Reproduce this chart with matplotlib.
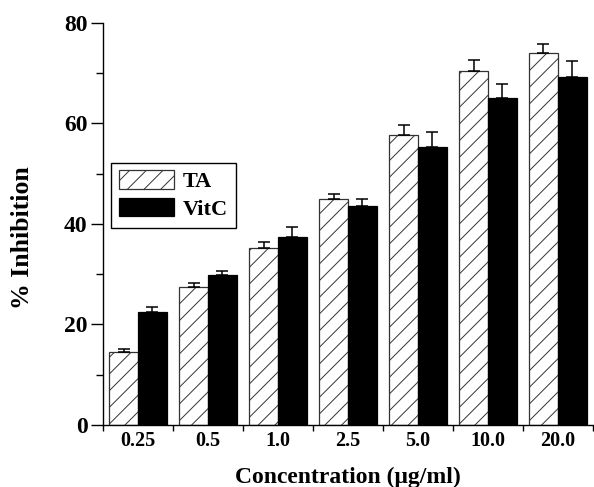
import matplotlib
matplotlib.use("Agg")
import matplotlib.pyplot as plt
import numpy as np

categories = ["0.25", "0.5", "1.0", "2.5", "5.0", "10.0", "20.0"]
ta_values = [14.6, 27.5, 35.2, 44.9, 57.6, 70.4, 74.0]
ta_errors = [0.5, 0.8, 1.2, 1.1, 2.0, 2.1, 1.7]
vitc_values = [22.4, 29.8, 37.3, 43.6, 55.3, 65.0, 69.3]
vitc_errors = [1.0, 0.8, 2.0, 1.3, 2.9, 2.9, 3.1]

plt.rcParams['font.family'] = ['Liberation Serif', 'DejaVu Serif']
plt.rcParams['font.weight'] = 'bold'
plt.rcParams['hatch.linewidth'] = 0.7

fig = plt.figure(figsize=(5.94, 4.87), dpi=100)
ax = fig.add_axes([0.1734, 0.1273, 0.8246, 0.8261])

x = np.arange(len(categories))
w = 0.41
ax.bar(x - w/2, ta_values, w, color='white', edgecolor='#333333', linewidth=0.9,
       hatch='//', label='TA', zorder=2)
ax.bar(x + w/2, vitc_values, w, color='black', edgecolor='black', linewidth=0.9,
       label='VitC', zorder=2)
ax.errorbar(x - w/2, ta_values, yerr=[np.zeros(len(x)), ta_errors], fmt='none',
            ecolor='black', elinewidth=1.1, capsize=4.5, capthick=1.1, zorder=3)
ax.errorbar(x + w/2, vitc_values, yerr=[np.zeros(len(x)), vitc_errors], fmt='none',
            ecolor='black', elinewidth=1.1, capsize=4.5, capthick=1.1, zorder=3)

ax.set_xlim(-0.5, len(categories) - 0.5)
ax.set_ylim(0, 80)
ax.spines['top'].set_visible(False)
ax.spines['right'].set_visible(False)
ax.spines['left'].set_linewidth(1.0)
ax.spines['bottom'].set_linewidth(1.0)

ax.set_xticks(x)
ax.set_xticklabels(categories, fontsize=14.5, fontweight='bold')
ax.set_xticks(np.arange(-0.5, len(categories) + 0.5, 1.0), minor=True)
ax.tick_params(axis='x', which='major', length=0, pad=4)
ax.tick_params(axis='x', which='minor', length=4, width=1.0, direction='out')

ax.set_yticks([0, 20, 40, 60, 80])
ax.set_yticks([10, 30, 50, 70], minor=True)
ax.tick_params(axis='y', which='major', length=9, width=1.0, labelsize=17, pad=2)
ax.tick_params(axis='y', which='minor', length=5, width=1.0)
for lab in ax.get_yticklabels():
    lab.set_fontweight('bold')

ax.set_xlabel('Concentration (μg/ml)', fontsize=17, fontweight='bold', labelpad=12)
ax.set_ylabel('% Inhibition', fontsize=18.5, fontweight='bold')
ax.yaxis.set_label_coords(-0.14, 0.466)

leg = ax.legend(loc='upper left', bbox_to_anchor=(0.016, 0.652), fontsize=16,
                frameon=True, fancybox=False, edgecolor='black', framealpha=1,
                handlelength=2.5, handleheight=0.9, labelspacing=0.25,
                borderpad=0.35, handletextpad=0.4, borderaxespad=0)
leg.get_frame().set_linewidth(1.0)
for t in leg.get_texts():
    t.set_fontweight('bold')

fig.savefig('out.png', dpi=100)
